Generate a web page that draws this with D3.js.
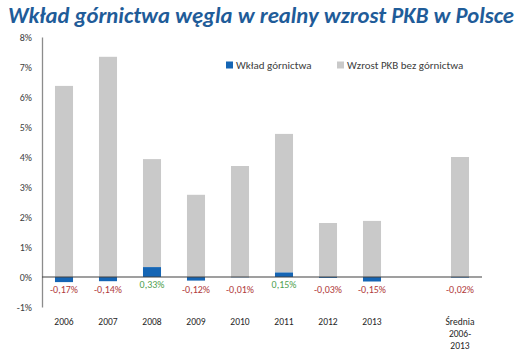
<!DOCTYPE html>
<html>
<head>
<meta charset="utf-8">
<script src="https://cdn.jsdelivr.net/npm/d3@7"></script>
<style>
  body { margin: 0; background: #fff; }
  text { font-family: Carlito, Calibri, "Open Sans", sans-serif; }
</style>
</head>
<body>
<div id="chart"></div>
<script>
const categories = ['2006', '2007', '2008', '2009', '2010', '2011', '2012', '2013', '', 'Średnia\n2006-\n2013'];
const mining = [-0.17, -0.14, 0.33, -0.12, -0.01, 0.15, -0.03, -0.15, null, -0.02];
const withoutMining = [6.37, 7.34, 3.60, 2.74, 3.70, 4.62, 1.80, 1.87, null, 4.00];
const labels = ['-0,17%', '-0,14%', '0,33%', '-0,12%', '-0,01%', '0,15%', '-0,03%', '-0,15%', '', '-0,02%'];
const yTicks = [-1, 0, 1, 2, 3, 4, 5, 6, 7, 8];

const W = 520, H = 361;
const blue = '#1565b4';
const gray = '#c9c9c9';

const svg = d3.select('#chart').append('svg')
  .attr('width', W)
  .attr('height', H);

const x = d3.scaleBand()
  .domain(d3.range(categories.length))
  .range([42, 482])
  .paddingInner(0.59)
  .paddingOuter(0.295);

const y = d3.scaleLinear()
  .domain([-1, 8])
  .range([307, 37]);

// title
svg.append('text')
  .attr('x', 8)
  .attr('y', 23)
  .attr('textLength', 506)
  .attr('lengthAdjust', 'spacingAndGlyphs')
  .style('font-size', '22px')
  .style('font-weight', 'bold')
  .style('font-style', 'italic')
  .style('fill', '#1f5c99')
  .text('Wkład górnictwa węgla w realny wzrost PKB w Polsce');

// gray bars (stacked on positive contribution)
svg.append('g').selectAll('rect')
  .data(d3.range(categories.length).filter(i => withoutMining[i] != null))
  .join('rect')
  .attr('x', i => x(i))
  .attr('width', x.bandwidth())
  .attr('y', i => y(withoutMining[i] + Math.max(0, mining[i])))
  .attr('height', i => y(Math.max(0, mining[i])) - y(withoutMining[i] + Math.max(0, mining[i])))
  .attr('fill', gray);

// blue bars
svg.append('g').selectAll('rect')
  .data(d3.range(categories.length).filter(i => mining[i] != null))
  .join('rect')
  .attr('x', i => x(i))
  .attr('width', x.bandwidth())
  .attr('y', i => y(Math.max(0, mining[i])))
  .attr('height', i => Math.abs(y(mining[i]) - y(0)))
  .attr('fill', blue);

// y axis
const yAxis = d3.axisLeft(y)
  .tickValues(yTicks)
  .tickSize(0)
  .tickPadding(10)
  .tickFormat(d => d + '%');

const gy = svg.append('g')
  .attr('transform', 'translate(42,0)')
  .call(yAxis);
gy.select('.domain').attr('stroke', '#8c8c8c').attr('stroke-width', 1.3);
gy.selectAll('text')
  .style('font-size', '10px')
  .style('fill', '#404040')
  .style('font-family', 'Carlito, Calibri, "Open Sans", sans-serif');

// zero line
svg.append('line')
  .attr('x1', 42).attr('x2', 482)
  .attr('y1', y(0)).attr('y2', y(0))
  .attr('stroke', '#404040')
  .attr('stroke-width', 1.2);

// data labels
svg.append('g').selectAll('text')
  .data(d3.range(categories.length).filter(i => labels[i] !== ''))
  .join('text')
  .attr('x', i => x(i) + x.bandwidth() / 2)
  .attr('y', i => mining[i] >= 0 ? y(0) + 11 : y(0) + 16)
  .attr('text-anchor', 'middle')
  .style('font-size', '10px')
  .style('fill', i => mining[i] >= 0 ? '#4fa04f' : '#b03a3a')
  .text(i => labels[i]);

// category labels
const cat = svg.append('g').selectAll('text')
  .data(d3.range(categories.length))
  .join('text')
  .attr('x', i => x(i) + x.bandwidth() / 2)
  .attr('y', 325)
  .attr('text-anchor', 'middle')
  .style('font-size', '9.5px')
  .style('fill', '#262626');
cat.selectAll('tspan')
  .data(i => categories[i].split('\n').map(s => ({ s, i })))
  .join('tspan')
  .attr('x', d => x(d.i) + x.bandwidth() / 2)
  .attr('dy', (d, k) => k === 0 ? 0 : 12)
  .text(d => d.s);

// legend
const legend = [
  { name: 'Wkład górnictwa', color: blue, x: 226 },
  { name: 'Wzrost PKB bez górnictwa', color: gray, x: 337 }
];
const lg = svg.append('g').selectAll('g')
  .data(legend)
  .join('g')
  .attr('transform', d => `translate(${d.x},65)`);
lg.append('rect')
  .attr('x', 0).attr('y', -3.5)
  .attr('width', 7).attr('height', 7)
  .attr('fill', d => d.color);
lg.append('text')
  .attr('x', 10)
  .attr('y', 4)
  .style('font-size', '11px')
  .style('fill', '#404040')
  .text(d => d.name);
</script>
</body>
</html>
